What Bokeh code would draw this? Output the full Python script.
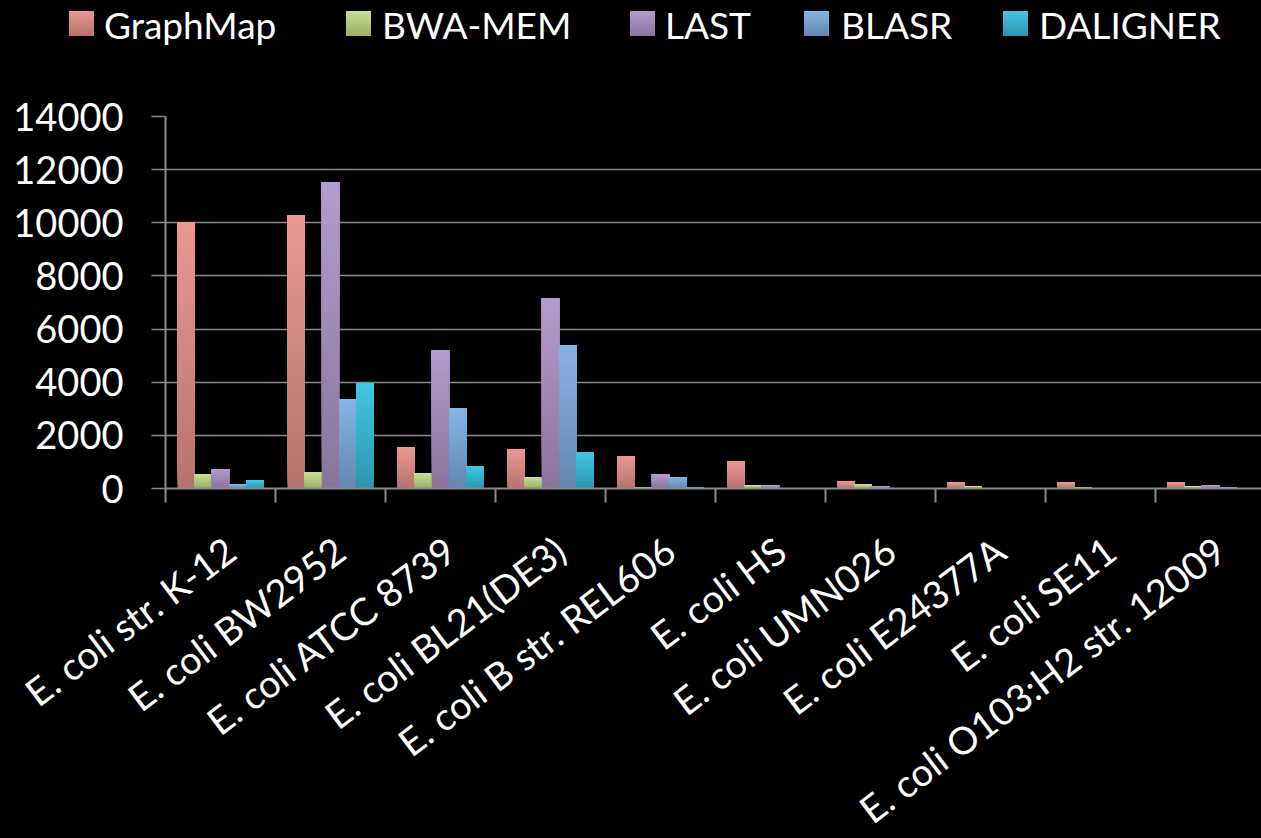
import math

from bokeh.embed import file_html
from bokeh.layouts import column
from bokeh.models import ColumnDataSource, Div, FixedTicker, Range1d
from bokeh.plotting import figure
from bokeh.resources import INLINE

# ---- data -------------------------------------------------------------
categories = [
    "E. coli str. K-12",
    "E. coli BW2952",
    "E. coli ATCC 8739",
    "E. coli BL21(DE3)",
    "E. coli B str. REL606",
    "E. coli HS",
    "E. coli UMN026",
    "E. coli E24377A",
    "E. coli SE11",
    "E. coli O103:H2 str. 12009",
]
series_names = ["GraphMap", "BWA-MEM", "LAST", "BLASR", "DALIGNER"]
graphmap = [10000, 10280, 1550, 1480, 1220, 1030, 270, 240, 240, 240]
bwa_mem = [540, 610, 580, 430, 50, 130, 160, 90, 50, 90]
last = [730, 11520, 5200, 7150, 540, 130, 90, 0, 0, 130]
blasr = [160, 3360, 3020, 5390, 430, 0, 0, 0, 0, 40]
daligner = [310, 3950, 840, 1370, 40, 0, 0, 0, 0, 0]
y_ticks = [0, 2000, 4000, 6000, 8000, 10000, 12000, 14000]

series = [graphmap, bwa_mem, last, blasr, daligner]

# ---- styling ----------------------------------------------------------
top_colors = ["#EA9891", "#C9DF8F", "#B49DCE", "#86B4E7", "#41C6E4"]
bottom_colors = ["#B6736D", "#9AAD68", "#8A739D", "#6387AE", "#2B96AD"]

FONT = "Lato"
GRID = "#8a8a8a"

W, H = 1261, 838
HEAD_H = 70                       # strip holding the legend
CHART_H = 440                     # plot canvas (frame + tick marks)
LEFT, FRAME_TOP, FRAME_BOTTOM = 165, 116, 488
CAT_PX = 110                      # pixel width of one category slot
BAR_W = 17.2 / CAT_PX             # bar width in category units
N_SLICES = 60                     # bands per bar for the vertical shading
LABEL_ANGLE_DEG = 37
NAME_DX, NAME_Y = 10, 545         # end point of each slanted category name

# legend layout: swatch left edges and label left edges, in pixels
swatch_left = [69, 346, 630, 804, 1003]
label_left = [104, 382, 665, 841, 1039]


def hex_to_rgb(h):
    h = h.lstrip("#")
    return tuple(int(h[i:i + 2], 16) for i in (0, 2, 4))


def mix(c0, c1, t):
    a, b = hex_to_rgb(c0), hex_to_rgb(c1)
    return "#%02x%02x%02x" % tuple(round(a[i] + (b[i] - a[i]) * t) for i in range(3))


x_end = (W - LEFT) / CAT_PX

p = figure(
    width=W, height=CHART_H,
    output_backend="svg", toolbar_location=None,
    x_range=Range1d(0, x_end), y_range=Range1d(0, 14000),
    min_border_left=LEFT, min_border_right=0,
    min_border_top=FRAME_TOP - HEAD_H,
    min_border_bottom=HEAD_H + CHART_H - FRAME_BOTTOM,
    background_fill_color="black", border_fill_color="black",
    outline_line_color=None,
    styles={"background-color": "black"},
)

# ---- bars, each shaded light at the top to darker at the base ---------
# every band runs from its own base up to the bar's value, and each later
# (lighter) band is painted over the earlier one
for j, (name, vals) in enumerate(zip(series_names, series)):
    xs, bots, tops, cols = [], [], [], []
    for i, v in enumerate(vals):
        if v <= 0:
            continue
        for k in range(N_SLICES):
            xs.append(i + 0.5 + (j - 2) * BAR_W)
            bots.append(v * k / N_SLICES)
            tops.append(v)
            cols.append(mix(bottom_colors[j], top_colors[j], (k + 0.5) / N_SLICES))
    src = ColumnDataSource(dict(x=xs, bottom=bots, top=tops, color=cols))
    p.vbar(x="x", bottom="bottom", top="top", width=BAR_W, source=src,
           fill_color="color", line_color=None)

# ---- axes and grid ----------------------------------------------------
p.xgrid.visible = False
p.ygrid.ticker = FixedTicker(ticks=y_ticks)
p.ygrid.grid_line_color = GRID
p.ygrid.grid_line_width = 1.5

yax = p.yaxis[0]
yax.ticker = FixedTicker(ticks=y_ticks)
yax.axis_line_color = GRID
yax.axis_line_width = 2
yax.major_tick_line_color = GRID
yax.major_tick_line_width = 1.5
yax.major_tick_out = 14
yax.major_tick_in = 0
yax.minor_tick_line_color = None
yax.major_label_standoff = 28
yax.major_label_text_color = "white"
yax.major_label_text_font = FONT
yax.major_label_text_font_size = "38px"

bounds = [float(i) for i in range(len(categories) + 1)]
xax = p.xaxis[0]
# tick marks on the slot boundaries; the slanted names are set below
xax.ticker = FixedTicker(ticks=[], minor_ticks=bounds)
xax.axis_line_color = GRID
xax.axis_line_width = 2
xax.minor_tick_out = 14
xax.minor_tick_in = 0
xax.minor_tick_line_color = GRID
xax.minor_tick_line_width = 2

# ---- legend strip: shaded swatch + name for each series ---------------
entries = []
for j, name in enumerate(series_names):
    entries.append(
        f'<div style="position:absolute;left:{swatch_left[j]}px;top:11px;'
        f'width:25px;height:25px;'
        f'background:linear-gradient({top_colors[j]},{bottom_colors[j]});"></div>'
        f'<div style="position:absolute;left:{label_left[j]}px;top:6px;'
        f'line-height:38px;white-space:nowrap;">{name}</div>'
    )
head = Div(
    text=(f'<div style="position:relative;width:{W}px;height:{HEAD_H}px;'
          f'background:black;color:white;font-family:{FONT};font-size:37px;">'
          + "".join(entries) + "</div>"),
    width=W, height=HEAD_H, margin=0,
    styles={"background-color": "black"},
)

# ---- category names, slanted, ending under each slot centre -----------
names_top = HEAD_H + CHART_H
names_h = H - names_top
name_tags = []
for i, name in enumerate(categories):
    end_x = LEFT + (i + 0.5) * CAT_PX + NAME_DX
    name_tags.append(
        f'<div style="position:absolute;right:{W - end_x:.1f}px;'
        f'top:{NAME_Y - names_top - 24}px;height:48px;line-height:48px;'
        f'white-space:nowrap;transform-origin:100% 50%;'
        f'transform:rotate(-{LABEL_ANGLE_DEG}deg);">{name}</div>'
    )
names = Div(
    text=(f'<div style="position:relative;width:{W}px;height:{names_h}px;'
          f'background:black;color:white;font-family:{FONT};font-size:38px;">'
          + "".join(name_tags) + "</div>"),
    width=W, height=names_h, margin=0,
    styles={"background-color": "black"},
)

page = column(head, p, names, spacing=0, styles={"background-color": "black"})
open("out.html", "w").write(file_html(page, INLINE))
